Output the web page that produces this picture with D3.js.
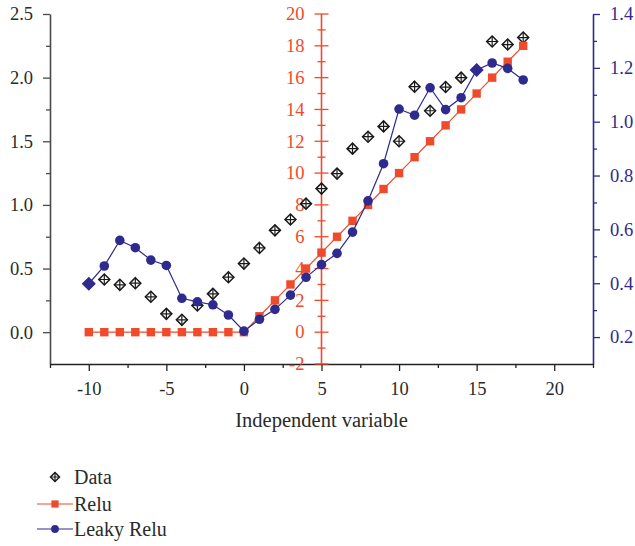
<!DOCTYPE html>
<html>
<head>
<meta charset="utf-8">
<script src="https://cdn.jsdelivr.net/npm/d3@7"></script>
<style>
  html, body { margin: 0; padding: 0; background: #fff; }
  svg { display: block; }
</style>
</head>
<body>
<svg id="chart" width="635" height="546" font-family="Liberation Serif, serif"></svg>
<script>
// Inputs (independent variable)
const xValues = [-10, -9, -8, -7, -6, -5, -4, -3, -2, -1, 0, 1, 2, 3, 4, 5, 6, 7, 8, 9,
                 10, 11, 12, 13, 14, 15, 16, 17, 18];
// Measured data (left axis)
const dataValues = [0.385, 0.414, 0.372, 0.385, 0.278, 0.144, 0.097, 0.21, 0.301, 0.432,
                    0.539, 0.662, 0.80, 0.885, 1.01, 1.128, 1.246, 1.442, 1.536, 1.617,
                    1.50, 1.929, 1.74, 1.926, 2.00, 2.062, 2.284, 2.26, 2.315];
// Relu output (middle axis)
const reluValues = [0, 0, 0, 0, 0, 0, 0, 0, 0, 0, 0, 1, 2, 3, 4, 5, 6, 7, 8, 9,
                    10, 11, 12, 13, 14, 15, 16, 17, 18];
// Leaky Relu output (right axis)
const leakyValues = [0.398, 0.464, 0.559, 0.532, 0.486, 0.466, 0.344, 0.331, 0.320, 0.282,
                     0.222, 0.266, 0.303, 0.356, 0.422, 0.469, 0.511, 0.590, 0.706, 0.844,
                     1.047, 1.024, 1.126, 1.045, 1.089, 1.192, 1.218, 1.198, 1.155];

// Tick values
const xMajorTicks = [-10, -5, 0, 5, 10, 15, 20];
const xMinorTicks = [-12.5, -7.5, -2.5, 2.5, 7.5, 12.5, 17.5, 22.5];
const leftMajorTicks = [0, 0.5, 1.0, 1.5, 2.0, 2.5];
const leftMinorTicks = [0.25, 0.75, 1.25, 1.75, 2.25];
const reluMajorTicks = [-2, 0, 2, 4, 6, 8, 10, 12, 14, 16, 18, 20];
const reluMinorTicks = [-1, 1, 3, 5, 7, 9, 11, 13, 15, 17, 19];
const leakyMajorTicks = [0.2, 0.4, 0.6, 0.8, 1.0, 1.2, 1.4];
const leakyMinorTicks = [0.3, 0.5, 0.7, 0.9, 1.1, 1.3];

const seriesNames = ["Data", "Relu", "Leaky Relu"];

const RED = "#ef4a2b";
const BLUE = "#2f2a8e";
const AXIS = "#4a4a4a";
const TEXT = "#2a2a2a";
const FONT = "Liberation Serif, serif";
const TICK_SIZE = "18.5px";

const svg = d3.select("#chart");

const plotLeft = 50, plotRight = 593, plotTop = 14, plotBottom = 364;

const x = d3.scaleLinear().domain([-12.5, 22.5]).range([plotLeft, plotRight]);
const yLeft = d3.scaleLinear().domain([-0.25, 2.5]).range([plotBottom, plotTop]);
const yRelu = d3.scaleLinear().domain([-2, 20]).range([plotBottom, plotTop]);
const yLeaky = d3.scaleLinear().domain([0.1, 1.4]).range([plotBottom, plotTop]);

const fmt1 = d => d.toFixed(1);
const fmtInt = d => String(d);   // plain hyphen for negatives

function styleAxis(g, color, fontColor) {
  g.attr("font-family", FONT);
  g.select(".domain").attr("stroke", color).attr("stroke-width", 1.6);
  g.selectAll(".tick line").attr("stroke", color).attr("stroke-width", 1.3);
  g.selectAll(".tick text")
    .attr("fill", fontColor)
    .attr("font-family", FONT)
    .style("font-size", TICK_SIZE);
}

// Left axis (Data)
const gLeft = svg.append("g").attr("transform", `translate(${plotLeft},0)`);
gLeft.call(d3.axisLeft(yLeft).tickValues(leftMajorTicks).tickFormat(fmt1)
  .tickSize(7).tickSizeOuter(0).tickPadding(10));
gLeft.append("g").call(d3.axisLeft(yLeft).tickValues(leftMinorTicks).tickFormat("")
  .tickSize(4).tickSizeOuter(0)).select(".domain").remove();
styleAxis(gLeft, AXIS, TEXT);

// Right axis (Leaky Relu)
const gRight = svg.append("g").attr("transform", `translate(${plotRight},0)`);
gRight.call(d3.axisRight(yLeaky).tickValues(leakyMajorTicks).tickFormat(fmt1)
  .tickSize(7).tickSizeOuter(0).tickPadding(10));
gRight.append("g").call(d3.axisRight(yLeaky).tickValues(leakyMinorTicks).tickFormat("")
  .tickSize(4).tickSizeOuter(0)).select(".domain").remove();
styleAxis(gRight, BLUE, BLUE);

// Bottom axis
const gBottom = svg.append("g").attr("transform", `translate(0,${plotBottom})`);
gBottom.call(d3.axisBottom(x).tickValues(xMajorTicks).tickFormat(fmtInt)
  .tickSize(7).tickSizeOuter(0).tickPadding(11));
gBottom.append("g").call(d3.axisBottom(x).tickValues(xMinorTicks).tickFormat("")
  .tickSize(4).tickSizeOuter(0)).select(".domain").remove();
styleAxis(gBottom, "#222", TEXT);
gBottom.select(".domain").attr("stroke-width", 1.4);

// Middle axis (Relu) with crossing ticks, placed at x = 5
const x0 = x(5);
const gMid = svg.append("g").attr("transform", `translate(${x0},0)`);
gMid.append("line").attr("y1", yRelu(20)).attr("y2", yRelu(-2))
  .attr("stroke", RED).attr("stroke-width", 1.6);
gMid.selectAll("line.major").data(reluMajorTicks).join("line")
  .attr("class", "major").attr("x1", -7).attr("x2", 7)
  .attr("y1", d => yRelu(d)).attr("y2", d => yRelu(d))
  .attr("stroke", RED).attr("stroke-width", 1.3);
gMid.selectAll("line.minor").data(reluMinorTicks).join("line")
  .attr("class", "minor").attr("x1", -4).attr("x2", 4)
  .attr("y1", d => yRelu(d)).attr("y2", d => yRelu(d))
  .attr("stroke", RED).attr("stroke-width", 1.3);
gMid.selectAll("text").data(reluMajorTicks).join("text")
  .attr("x", -17).attr("y", d => yRelu(d)).attr("dy", "0.34em")
  .attr("text-anchor", "end").attr("fill", RED).attr("font-family", FONT)
  .style("font-size", TICK_SIZE).text(fmtInt);

// Axis title
svg.append("text").attr("x", x(5)).attr("y", 427)
  .attr("text-anchor", "middle").attr("fill", TEXT).attr("font-family", FONT)
  .style("font-size", "20.5px").text("Independent variable");

// Data marker: outlined diamond with a cross, or a solid diamond when filled
function drawDataMarker(g, cx, cy, r, fill) {
  const m = g.append("g").attr("transform", `translate(${cx},${cy})`);
  m.append("path")
    .attr("d", `M0,${-r}L${r},0L0,${r}L${-r},0Z`)
    .attr("fill", fill || "#fff").attr("stroke", fill || "#1a1a1a").attr("stroke-width", 1.5);
  if (!fill) {
    m.append("path")
      .attr("d", `M0,${-r}V${r}M${-r},0H${r}`)
      .attr("stroke", "#1a1a1a").attr("stroke-width", 1.2);
  }
}

const pts = xValues.map((xv, i) => ({
  x: xv, data: dataValues[i], relu: reluValues[i], leaky: leakyValues[i]
}));

// Data markers (those coinciding with a Leaky Relu point are drawn on top later)
const coincide = d => Math.abs(yLeft(d.data) - yLeaky(d.leaky)) < 1.5;
const gData = svg.append("g");
pts.filter(d => !coincide(d)).forEach(d => drawDataMarker(gData, x(d.x), yLeft(d.data), 5.5));

// Relu
const lineRelu = d3.line().x(d => x(d.x)).y(d => yRelu(d.relu));
svg.append("path").datum(pts).attr("d", lineRelu)
  .attr("fill", "none").attr("stroke", RED).attr("stroke-width", 1.2);
svg.append("g").selectAll("rect").data(pts).join("rect")
  .attr("x", d => x(d.x) - 4.2).attr("y", d => yRelu(d.relu) - 4.2)
  .attr("width", 8.4).attr("height", 8.4).attr("fill", RED);

// Leaky Relu
const lineLeaky = d3.line().x(d => x(d.x)).y(d => yLeaky(d.leaky));
svg.append("path").datum(pts).attr("d", lineLeaky)
  .attr("fill", "none").attr("stroke", BLUE).attr("stroke-width", 1.2);
svg.append("g").selectAll("circle").data(pts.filter(d => !coincide(d))).join("circle")
  .attr("cx", d => x(d.x)).attr("cy", d => yLeaky(d.leaky)).attr("r", 4.8).attr("fill", BLUE);
const gOver = svg.append("g");
pts.filter(coincide).forEach(d => drawDataMarker(gOver, x(d.x), yLeaky(d.leaky), 6, BLUE));

// Legend
const lg = svg.append("g");
const legendY = [477, 504, 529];
const lx = 55;
drawDataMarker(lg, lx, legendY[0], 4.5);
lg.append("line").attr("x1", 37).attr("x2", 73).attr("y1", legendY[1]).attr("y2", legendY[1])
  .attr("stroke", RED).attr("stroke-width", 1.2);
lg.append("rect").attr("x", lx - 3.6).attr("y", legendY[1] - 3.6).attr("width", 7.2).attr("height", 7.2).attr("fill", RED);
lg.append("line").attr("x1", 37).attr("x2", 73).attr("y1", legendY[2]).attr("y2", legendY[2])
  .attr("stroke", BLUE).attr("stroke-width", 1.2);
lg.append("circle").attr("cx", lx).attr("cy", legendY[2]).attr("r", 3.9).attr("fill", BLUE);
lg.selectAll("text").data(seriesNames).join("text")
  .attr("x", 74).attr("y", (d, i) => legendY[i]).attr("dy", "0.35em")
  .attr("fill", TEXT).attr("font-family", FONT).style("font-size", "20px").text(d => d);
</script>
</body>
</html>
